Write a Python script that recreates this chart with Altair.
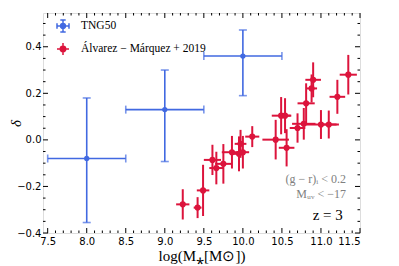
import altair as alt
import pandas as pd

BLUE = "#4169E1"
RED = "#DC143C"
SERIF = "Liberation Serif"

# TNG50 (blue)
tng_x = [8.0, 9.0, 10.0]
tng_y = [-0.08, 0.13, 0.36]
tng_xlo = [7.5, 8.5, 9.5]
tng_xhi = [8.5, 9.5, 10.5]
tng_ylo = [-0.355, -0.093, 0.19]
tng_yhi = [0.18, 0.30, 0.472]

# Alvarez-Marquez+ 2019 (red)
am_x = [9.23, 9.42, 9.49, 9.61, 9.66, 9.75, 9.86, 9.95, 9.97, 10.00, 10.12, 10.42,
        10.49, 10.54, 10.56, 10.70, 10.78, 10.81, 10.88, 10.90, 11.00, 11.10, 11.21, 11.35]
am_y = [-0.277, -0.291, -0.217, -0.086, -0.121, -0.103, -0.053, -0.060, -0.017, -0.053, 0.014, 0.001,
        0.104, 0.104, -0.034, 0.051, 0.069, 0.157, 0.221, 0.258, 0.066, 0.066, 0.185, 0.280]
am_xerr = [0.085, 0.05, 0.08, 0.11, 0.09, 0.105, 0.13, 0.075, 0.075, 0.08, 0.09, 0.17,
           0.12, 0.08, 0.10, 0.10, 0.15, 0.11, 0.07, 0.10, 0.20, 0.13, 0.10, 0.11]
am_yerr = [0.065, 0.045, 0.11, 0.065, 0.07, 0.085, 0.07, 0.075, 0.06, 0.07, 0.045, 0.085,
           0.08, 0.075, 0.08, 0.063, 0.068, 0.086, 0.06, 0.075, 0.062, 0.06, 0.073, 0.085]

series_names = ["TNG50", "Álvarez − Márquez +  2019"]

x_major = [7.5, 8.0, 8.5, 9.0, 9.5, 10.0, 10.5, 11.0, 11.5]
x_minor = [round(7.5 + 0.1 * i, 2) for i in range(41) if i % 5 != 0]
y_major = [-0.4, -0.2, 0.0, 0.2, 0.4]
y_minor = [round(-0.4 + 0.05 * i, 3) for i in range(19) if i % 4 != 0]

X_DOM = [7.44, 11.5]
Y_DOM = [-0.4, 0.545]
W, H = 317, 220

xs = alt.Scale(domain=X_DOM, nice=False, zero=False)
ys = alt.Scale(domain=Y_DOM, nice=False, zero=False)

tng = pd.DataFrame({"x": tng_x, "y": tng_y, "xlo": tng_xlo, "xhi": tng_xhi,
                    "ylo": tng_ylo, "yhi": tng_yhi})
am = pd.DataFrame({"x": am_x, "y": am_y})
am["xlo"] = am["x"] - pd.Series(am_xerr)
am["xhi"] = am["x"] + pd.Series(am_xerr)
am["ylo"] = am["y"] - pd.Series(am_yerr)
am["yhi"] = am["y"] + pd.Series(am_yerr)

xaxis = alt.Axis(values=x_major, ticks=False, domain=False, grid=False,
                 labelFont="DejaVu Sans", labelFontSize=10, labelColor="black",
                 labelPadding=3, labelExpr="replace(format(datum.value, '.1f'), '-', '−')",
                 title="log(M⁎[M⊙])", titleFont=SERIF, titleFontSize=15,
                 titleFontWeight="normal", titleColor="black", titlePadding=2)
yaxis = alt.Axis(values=y_major, ticks=False, domain=False, grid=False,
                 labelFont="DejaVu Sans", labelFontSize=10, labelColor="black",
                 labelPadding=2, labelExpr="replace(format(datum.value, '.1f'), '-', '−')",
                 title="δ", titleFont=SERIF, titleFontSize=15, titleFontStyle="italic",
                 titleFontWeight="normal", titleColor="black", titleAngle=270,
                 titleX=-28, titleY=110, titleAlign="center", titleBaseline="middle")

X = lambda f: alt.X(f, type="quantitative", scale=xs, axis=xaxis)
Y = lambda f: alt.Y(f, type="quantitative", scale=ys, axis=yaxis)

base_t = alt.Chart(tng)
t_h = base_t.mark_rule(color=BLUE, strokeWidth=1.6).encode(x=X("xlo"), x2="xhi", y=Y("y"))
t_v = base_t.mark_rule(color=BLUE, strokeWidth=1.6).encode(x=X("x"), y=Y("ylo"), y2="yhi")
t_c1 = base_t.mark_tick(color=BLUE, orient="vertical", size=8, thickness=1.6).encode(x=X("xlo"), y=Y("y"))
t_c2 = base_t.mark_tick(color=BLUE, orient="vertical", size=8, thickness=1.6).encode(x=X("xhi"), y=Y("y"))
t_c3 = base_t.mark_tick(color=BLUE, orient="horizontal", size=8, thickness=1.6).encode(x=X("x"), y=Y("ylo"))
t_c4 = base_t.mark_tick(color=BLUE, orient="horizontal", size=8, thickness=1.6).encode(x=X("x"), y=Y("yhi"))
t_p = base_t.mark_circle(color=BLUE, size=28, opacity=1).encode(x=X("x"), y=Y("y"))

base_a = alt.Chart(am)
a_h = base_a.mark_rule(color=RED, strokeWidth=2).encode(x=X("xlo"), x2="xhi", y=Y("y"))
a_v = base_a.mark_rule(color=RED, strokeWidth=2).encode(x=X("x"), y=Y("ylo"), y2="yhi")
a_p = base_a.mark_circle(color=RED, size=38, opacity=1).encode(x=X("x"), y=Y("y"))

# inward ticks on all four sides
dxM = pd.DataFrame({"v": x_major})
dxm = pd.DataFrame({"v": x_minor})
dyM = pd.DataFrame({"v": y_major})
dym = pd.DataFrame({"v": y_minor})
tick_layers = []
for df, L in [(dxM, 5), (dxm, 2.5)]:
    tick_layers.append(alt.Chart(df).mark_rule(color="black", strokeWidth=1).encode(
        x=X("v"), y=alt.value(H), y2=alt.value(H - L)))
    tick_layers.append(alt.Chart(df).mark_rule(color="black", strokeWidth=1).encode(
        x=X("v"), y=alt.value(0), y2=alt.value(L)))
for df, L in [(dyM, 5), (dym, 2.5)]:
    tick_layers.append(alt.Chart(df).mark_rule(color="black", strokeWidth=1).encode(
        y=Y("v"), x=alt.value(0), x2=alt.value(L)))
    tick_layers.append(alt.Chart(df).mark_rule(color="black", strokeWidth=1).encode(
        y=Y("v"), x=alt.value(W), x2=alt.value(W - L)))

# annotations
ann = pd.DataFrame({"x": [11.32, 11.32], "y": [-0.170, -0.231],
                    "t": ["(g − r)ᵢ < 0.2", "Mᵤᵥ < −17"]})
ann_t = alt.Chart(ann).mark_text(align="right", baseline="middle", font=SERIF,
                                 fontSize=12, color="#808080").encode(x=X("x"), y=Y("y"), text="t")
z_t = alt.Chart(pd.DataFrame({"x": [11.28], "y": [-0.321], "t": ["z = 3"]})).mark_text(
    align="right", baseline="middle", font=SERIF, fontSize=15, color="black").encode(
    x=X("x"), y=Y("y"), text="t")

# legend
BLUE_PATH = ("M-1,0H1M-1,-0.45V0.45M1,-0.45V0.45M0,-1V1M-0.45,-1H0.45M-0.45,1H0.45"
             "M0.4,0A0.4,0.4,0,1,1,-0.4,0A0.4,0.4,0,1,1,0.4,0Z")
RED_PATH = "M-1,0H1M0,-1V1M0.45,0A0.45,0.45,0,1,1,-0.45,0A0.45,0.45,0,1,1,0.45,0Z"
leg = alt.Legend(title=None, orient="none", legendX=13, legendY=6, padding=0,
                 labelFont=SERIF, labelFontSize=11.5, labelColor="black",
                 symbolOpacity=1, symbolSize=144, symbolStrokeWidth=1.5,
                 labelOffset=11, rowPadding=5)
leg_df = pd.DataFrame({"series": series_names, "x": [8.0, 8.0], "y": [0.0, 0.0]})
leg_layer = alt.Chart(leg_df).mark_point(filled=True, opacity=0, size=144).encode(
    x=X("x"), y=Y("y"),
    fill=alt.Fill("series:N", scale=alt.Scale(domain=series_names, range=[BLUE, RED]), legend=leg),
    stroke=alt.Stroke("series:N", scale=alt.Scale(domain=series_names, range=[BLUE, RED]), legend=leg),
    shape=alt.Shape("series:N", scale=alt.Scale(domain=series_names, range=[BLUE_PATH, RED_PATH]), legend=leg),
)

chart = alt.layer(
    leg_layer, *tick_layers, t_h, t_v, t_c1, t_c2, t_c3, t_c4, t_p, a_h, a_v, a_p, ann_t, z_t
).properties(
    width=W, height=H,
    autosize=alt.AutoSizeParams(type="none"),
    padding={"left": 35, "top": 5, "right": 31, "bottom": 40},
).configure_view(stroke="black", strokeWidth=1.5).configure(background="white")

chart.save("out.html", embed_options={"renderer": "svg", "actions": False})
